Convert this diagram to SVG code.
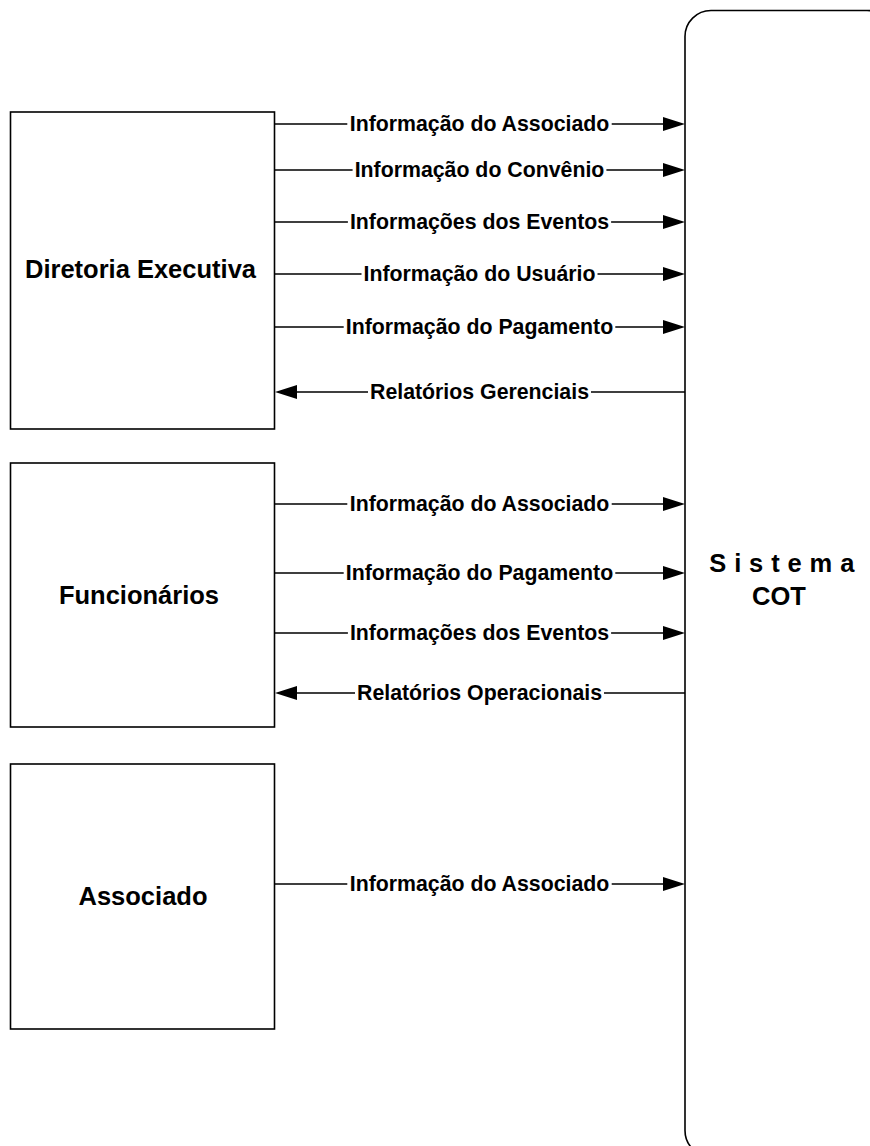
<svg xmlns="http://www.w3.org/2000/svg" width="870" height="1146" viewBox="0 0 870 1146">
<style>
.box{fill:#fff;stroke:#000;stroke-width:1.6}
.ln{stroke:#000;stroke-width:1.3;fill:none}
.ah{fill:#000;stroke:none}
.lbl{font-family:"Liberation Sans",Arial,sans-serif;font-weight:bold;font-size:21.3px;text-anchor:middle;fill:#000}
.node{font-family:"Liberation Sans",Arial,sans-serif;font-weight:bold;font-size:25.5px;text-anchor:middle;fill:#000}
</style>
<rect width="870" height="1146" fill="#fff"/>
<g id="sistema-cot">
<rect class="box" x="685" y="10.5" width="208" height="1146" rx="26" ry="26"/>
<text class="node" x="782" y="572" letter-spacing="0.4">S i s t e m a</text>
<text class="node" x="779" y="605">COT</text>
</g>
<g id="diretoria-executiva">
<rect class="box" x="10.5" y="112" width="264" height="317"/>
<text class="node" x="140.5" y="278" font-size="26px">Diretoria Executiva</text>
</g>
<g id="funcionarios">
<rect class="box" x="10.5" y="463" width="264" height="264"/>
<text class="node" x="139" y="604" font-size="27.5px">Funcionários</text>
</g>
<g id="associado">
<rect class="box" x="10.5" y="764" width="264" height="265"/>
<text class="node" x="143" y="905" font-size="26.5px">Associado</text>
</g>
<g id="connectors">
<path class="ln" d="M274.5 124H347.3M611.7 124H664"/><path class="ah" d="M685 124L663 117L663 131Z"/>
<text class="lbl" x="479.5" y="131">Informação do Associado</text>
<path class="ln" d="M274.5 170H352.6M606.4 170H664"/><path class="ah" d="M685 170L663 163L663 177Z"/>
<text class="lbl" x="479.5" y="177">Informação do Convênio</text>
<path class="ln" d="M274.5 222H347.9M611.1 222H664"/><path class="ah" d="M685 222L663 215L663 229Z"/>
<text class="lbl" x="479.5" y="229">Informações dos Eventos</text>
<path class="ln" d="M274.5 274H361.5M597.5 274H664"/><path class="ah" d="M685 274L663 267L663 281Z"/>
<text class="lbl" x="479.5" y="281">Informação do Usuário</text>
<path class="ln" d="M274.5 327H343.7M615.3 327H664"/><path class="ah" d="M685 327L663 320L663 334Z"/>
<text class="lbl" x="479.5" y="334">Informação do Pagamento</text>
<path class="ln" d="M296 392H368M591 392H685"/><path class="ah" d="M275 392L297 385L297 399Z"/>
<text class="lbl" x="479.5" y="399">Relatórios Gerenciais</text>
<path class="ln" d="M274.5 504H347.3M611.7 504H664"/><path class="ah" d="M685 504L663 497L663 511Z"/>
<text class="lbl" x="479.5" y="511">Informação do Associado</text>
<path class="ln" d="M274.5 573H343.7M615.3 573H664"/><path class="ah" d="M685 573L663 566L663 580Z"/>
<text class="lbl" x="479.5" y="580">Informação do Pagamento</text>
<path class="ln" d="M274.5 633H347.9M611.1 633H664"/><path class="ah" d="M685 633L663 626L663 640Z"/>
<text class="lbl" x="479.5" y="640">Informações dos Eventos</text>
<path class="ln" d="M296 693H355M604 693H685"/><path class="ah" d="M275 693L297 686L297 700Z"/>
<text class="lbl" x="479.5" y="700">Relatórios Operacionais</text>
<path class="ln" d="M274.5 884H347.3M611.7 884H664"/><path class="ah" d="M685 884L663 877L663 891Z"/>
<text class="lbl" x="479.5" y="891">Informação do Associado</text>
</g>
</svg>
